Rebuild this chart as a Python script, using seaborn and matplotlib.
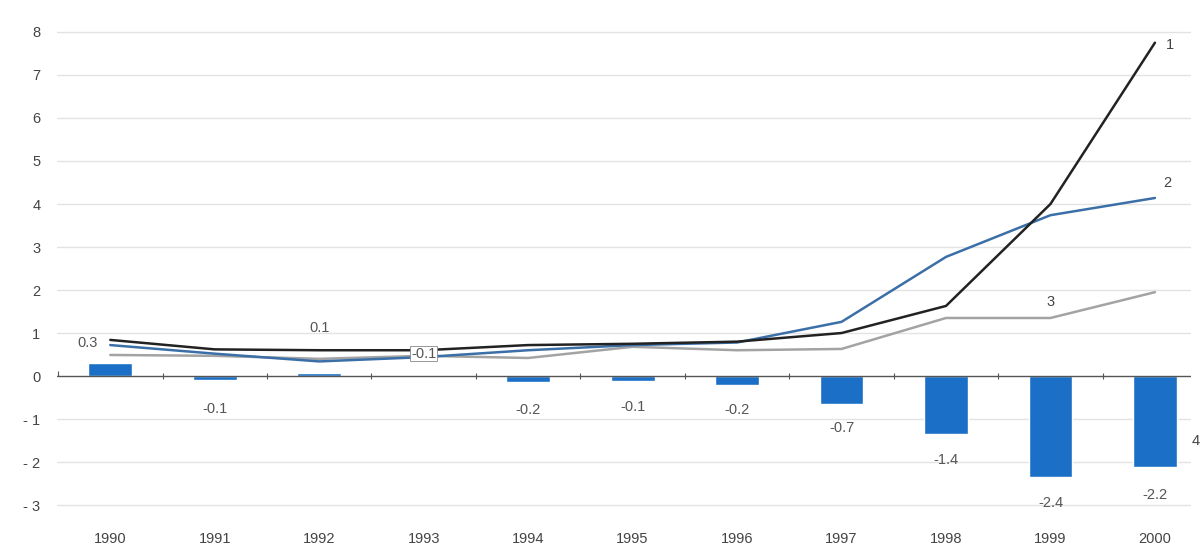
import numpy as np
import seaborn as sns
import matplotlib.pyplot as plt

# data
years = np.arange(1990, 2001)
series1 = [0.84, 0.62, 0.6, 0.6, 0.72, 0.75, 0.8, 1.0, 1.63, 4.0, 7.75]
series2 = [0.72, 0.52, 0.34, 0.44, 0.6, 0.72, 0.78, 1.26, 2.77, 3.74, 4.14]
series3 = [0.49, 0.47, 0.4, 0.47, 0.42, 0.68, 0.6, 0.63, 1.35, 1.35, 1.95]
bars = [0.3, -0.1, 0.08, -0.03, -0.15, -0.12, -0.2, -0.65, -1.35, -2.35, -2.12]
bar_labels = ["0.3", "-0.1", "0.1", "-0.1", "-0.2", "-0.1", "-0.2", "-0.7", "-1.4", "-2.4", "-2.2"]
label_x = [1989.78, 1991, 1992, 1993, 1994, 1995, 1996, 1997, 1998, 1999, 2000]
label_y = [0.77, -0.76, 1.12, 0.52, -0.78, -0.72, -0.8, -1.21, -1.95, -2.95, -2.77]
yticks = list(range(-3, 9))
ytick_labels = ["- 3", "- 2", "- 1", "0", "1", "2", "3", "4", "5", "6", "7", "8"]

sns.set_style("white")
plt.rcParams["font.family"] = ["Liberation Sans", "DejaVu Sans"]

fig, ax = plt.subplots(figsize=(12.03, 5.47), dpi=100)
fig.subplots_adjust(left=0.0474, right=0.99, top=0.973, bottom=0.057)

for y in yticks:
    if y != 0:
        ax.axhline(y, color="#e3e3e3", lw=1, zorder=0)

sns.barplot(x=years, y=bars, native_scale=True, width=0.42, color="#1b6fc6",
            saturation=1, ax=ax, zorder=2)

# zero line with small ticks between the years
ax.axhline(0, color="#555555", lw=1, zorder=3)
mids = (years[:-1] + years[1:]) / 2
ax.vlines(mids, -0.07, 0.07, color="#555555", lw=0.8, zorder=3)
ax.vlines([1989.5], 0, 0.12, color="#555555", lw=0.8, zorder=3)

sns.lineplot(x=years, y=series3, color="#a3a3a3", lw=1.8, ax=ax, zorder=4)
sns.lineplot(x=years, y=series2, color="#3b6fa8", lw=1.8, ax=ax, zorder=5)
sns.lineplot(x=years, y=series1, color="#222222", lw=1.8, ax=ax, zorder=6)

for i, lab in enumerate(bar_labels):
    box = None
    if years[i] == 1993:
        box = dict(facecolor="white", edgecolor="#888888", lw=0.6, pad=0.5)
    ax.text(label_x[i], label_y[i], lab, ha="center", va="center", fontsize=10.5,
            color="#555555", bbox=box, zorder=7)

ax.text(2000.1, 7.7, "1", fontsize=10.5, color="#444444", va="center")
ax.text(2000.08, 4.49, "2", fontsize=10.5, color="#444444", va="center")
ax.text(1999, 1.72, "3", fontsize=10.5, color="#444444", va="center", ha="center")
ax.text(2000.35, -1.5, "4", fontsize=10.5, color="#444444", va="center")

ax.set_xlim(1989.49, 2000.345)
ax.set_ylim(-3.25, 8.4)
ax.set_xticks(years)
ax.set_xticklabels([str(y) for y in years], fontsize=10.5, color="#444444")
ax.set_yticks(yticks)
ax.set_yticklabels(ytick_labels, fontsize=10.5, color="#444444")
ax.tick_params(axis="both", length=0)
ax.tick_params(axis="x", pad=12)
ax.tick_params(axis="y", pad=12)
sns.despine(ax=ax, left=True, bottom=True)

plt.savefig("out.png", dpi=100)
